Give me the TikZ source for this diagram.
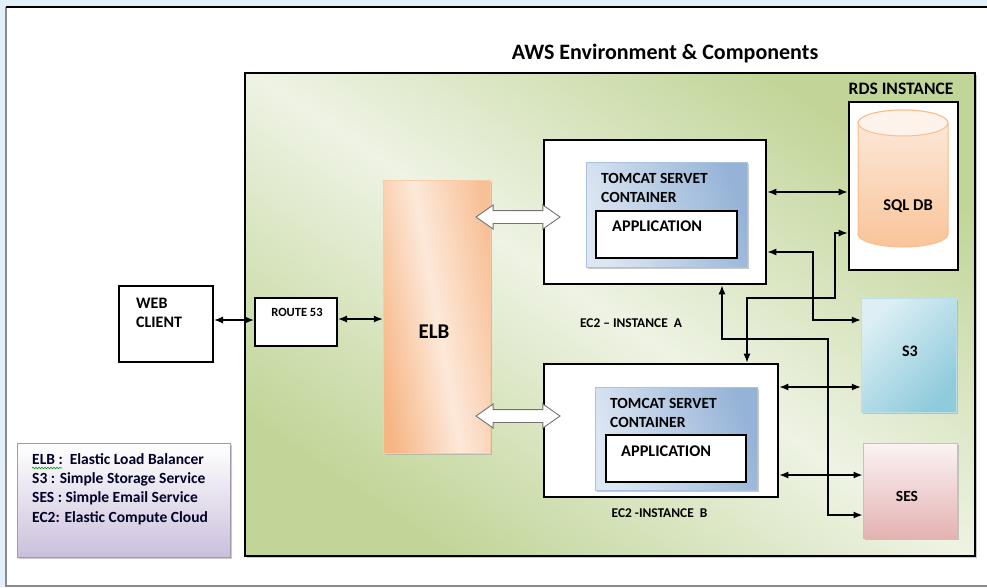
\documentclass[tikz,border=0pt]{standalone}
\usepackage{fontspec}
\setmainfont{Carlito}
\usepackage{tikz}
\usetikzlibrary{arrows.meta}
\usetikzlibrary{positioning,shapes.arrows,shadows,decorations.pathmorphing}

\definecolor{EnvLight}{HTML}{EEF3E4}
\definecolor{EnvDark}{HTML}{C1D598}
\definecolor{TcLight}{HTML}{DDE7F3}
\definecolor{TcDark}{HTML}{95B3D7}
\definecolor{ElbLight}{HTML}{FDE9DA}
\definecolor{ElbDark}{HTML}{F6B583}
\definecolor{DbLight}{HTML}{FDEBDD}
\definecolor{DbDark}{HTML}{F9C49A}
\definecolor{SthreeLight}{HTML}{DDEFF5}
\definecolor{SthreeDark}{HTML}{8FCBDB}
\definecolor{SesLight}{HTML}{FBF3F3}
\definecolor{SesDark}{HTML}{E4B3B2}
\definecolor{LegDark}{HTML}{CBBFDB}
\definecolor{PageBlue}{HTML}{E2F0FA}

\begin{document}
\begin{tikzpicture}[
x=1pt, y=-1pt,
every node/.style={font=\bfseries, inner sep=0pt},
BlackBox/.style={draw=black, line width=2pt, fill=white},
EcBox/.style={draw=black, line width=2.6pt, fill=white},
MyShadow/.style={drop shadow={shadow xshift=2pt, shadow yshift=-2pt, fill=black!35, opacity=0.6}},
Conn/.style={{Latex[length=9pt,width=7pt]}-{Latex[length=9pt,width=7pt]}, line width=1.3pt},
DArrow/.style={double arrow, draw=black!55, fill=white, line width=0.9pt, inner xsep=0pt, inner ysep=6pt,
  minimum height=84pt, minimum width=23pt, double arrow head extend=5.5pt, double arrow tip angle=70},
Lbl/.style={font=\fontsize{15.5}{19}\selectfont\bfseries, align=left, anchor=west}
]
%\grid;
\useasboundingbox (0,0) rectangle (987,587);

% page of the screenshot
\fill[PageBlue] (0,0) rectangle (987,587);
\fill[white] (6,7) rectangle (987,587);
\draw[black!45, line width=1.5pt] (987,586) -- (6,586) -- (6,7);
\draw[black, line width=2pt] (6,7) -- (987,7);

\node[font=\fontsize{22}{26}\selectfont\bfseries] (title) at (665,54) {AWS Environment \& Components};

% the AWS environment
\node[draw=black, line width=2pt, MyShadow,
  left color=EnvDark, right color=EnvDark, middle color=EnvLight, shading angle=146,
  minimum width=730pt, minimum height=483pt] (env) at (610,314.5) {};

\node[font=\fontsize{17.5}{20}\selectfont\bfseries] (rdslbl) at (901,89) {RDS INSTANCE};
\node[EcBox, minimum width=109pt, minimum height=168pt] (rds) at (903.5,186) {};

% SQL DB drawn as a cylinder
\path[top color=DbLight, bottom color=DbDark, draw=DbDark!90!orange, line width=1pt]
  (858,123) -- (858,234) arc[start angle=180, end angle=0, x radius=45, y radius=13]
  -- (948,123) arc[start angle=0, end angle=-180, x radius=45, y radius=13] -- cycle;
\draw[fill=DbLight!60!white, draw=DbDark!90!orange, line width=1pt] (903,123) ellipse [x radius=45, y radius=13];
\node[font=\fontsize{16.5}{19}\selectfont\bfseries] (sqldb) at (908,206) {SQL DB};

% EC2 instance A
\node[EcBox, minimum width=222pt, minimum height=144pt] (ecA) at (655,212) {};
\node[MyShadow, draw=TcDark!80, left color=TcLight, right color=TcDark, shading angle=110,
  minimum width=161pt, minimum height=105pt] (tcA) at (666.5,214.5) {};
\node[draw=black, line width=1.3pt, fill=white, minimum width=141pt, minimum height=47pt] (apA) at (666.5,234.5) {};
\node[Lbl] (tcAtxt) at (601,187.5) {TOMCAT SERVET\\CONTAINER};
\node[Lbl, font=\fontsize{16.3}{19}\selectfont\bfseries] (apAtxt) at (612,226) {APPLICATION};
\node[font=\fontsize{13.4}{16}\selectfont\bfseries] (ecAlbl) at (631,323) {EC2 -- INSTANCE\ \ A};

% EC2 instance B
\node[EcBox, minimum width=234pt, minimum height=133pt] (ecB) at (661,430.5) {};
\node[MyShadow, draw=TcDark!80, left color=TcLight, right color=TcDark, shading angle=110,
  minimum width=162pt, minimum height=103pt] (tcB) at (676,438.5) {};
\node[draw=black, line width=1.3pt, fill=white, minimum width=140pt, minimum height=47pt] (apB) at (676,458.5) {};
\node[Lbl] (tcBtxt) at (610,412.5) {TOMCAT SERVET\\CONTAINER};
\node[Lbl, font=\fontsize{16.3}{19}\selectfont\bfseries] (apBtxt) at (621,451) {APPLICATION};
\node[font=\fontsize{13.4}{16}\selectfont\bfseries] (ecBlbl) at (659.5,513) {EC2 -INSTANCE\ \ B};

% S3 and SES
\node[MyShadow, draw=SthreeDark!60, top color=SthreeLight, bottom color=SthreeDark, shading angle=45,
  minimum width=95pt, minimum height=114pt] (s3) at (908.5,355) {};
\node[font=\fontsize{16}{19}\selectfont\bfseries] (s3lbl) at (910,351) {S3};
\node[MyShadow, draw=SesDark, line width=1pt, top color=SesLight, bottom color=SesDark,
  minimum width=94pt, minimum height=95pt] (ses) at (910,490.5) {};
\node[font=\fontsize{15.5}{19}\selectfont\bfseries] (seslbl) at (907,496) {SES};

% ELB
\node[MyShadow, draw=ElbDark!70, left color=ElbDark, right color=ElbDark!85, middle color=ElbLight, shading angle=100,
  minimum width=107pt, minimum height=273pt] (elb) at (436.5,316.5) {};
\node[font=\fontsize{21}{24}\selectfont\bfseries] (elblbl) at (434,332) {ELB};

\node[DArrow] (daA) at (518,217) {};
\node[DArrow] (daB) at (518,416) {};

% client side
\node[BlackBox, minimum width=94pt, minimum height=76pt] (web) at (166,324) {};
\node[Lbl, font=\fontsize{16}{19}\selectfont\bfseries] (webtxt) at (136,312.5) {WEB\\CLIENT};
\node[BlackBox, minimum width=82pt, minimum height=48pt] (route) at (296,322) {};
\node[font=\fontsize{12.5}{14}\selectfont\bfseries] (routetxt) at (297,312) {ROUTE 53};

% legend
\node[MyShadow, draw=LegDark!80!black, line width=1pt, top color=white, bottom color=LegDark,
  minimum width=213pt, minimum height=114pt] (legend) at (123.5,500) {};
\node[font=\fontsize{15.5}{19.4}\selectfont\bfseries, align=left, anchor=west, text=black!85!blue] (legtxt) at (32,489)
  {ELB :\ \ Elastic Load Balancer\\S3 : Simple Storage Service\\SES : Simple Email Service\\EC2: Elastic Compute Cloud};
\draw[green!60!black, line width=0.6pt, decorate, decoration={snake, amplitude=0.8pt, segment length=3pt}]
  (32,468) -- (62,468);

% connectors
\draw[Conn] (web.east |- 0,320) -- (route.west |- 0,320);
\draw[Conn] (route.east |- 0,319) -- (elb.west |- 0,319);
\draw[Conn] (ecA.east |- 0,192) -- (rds.west |- 0,192);
\draw[Conn] (ecB.north -| 747,0) |- (835,298) |- (rds.west |- 0,233);
\draw[Conn] (ecA.east |- 0,252) -| (813,320) -- (s3.west |- 0,320);
\draw[Conn] (ecA.south -| 722,0) |- (828,339) |- (ses.west |- 0,515);
\draw[Conn] (ecB.east |- 0,387) -- (s3.west |- 0,387);
\draw[Conn] (ecB.east |- 0,475) -- (ses.west |- 0,475);

\end{tikzpicture}
\end{document}
